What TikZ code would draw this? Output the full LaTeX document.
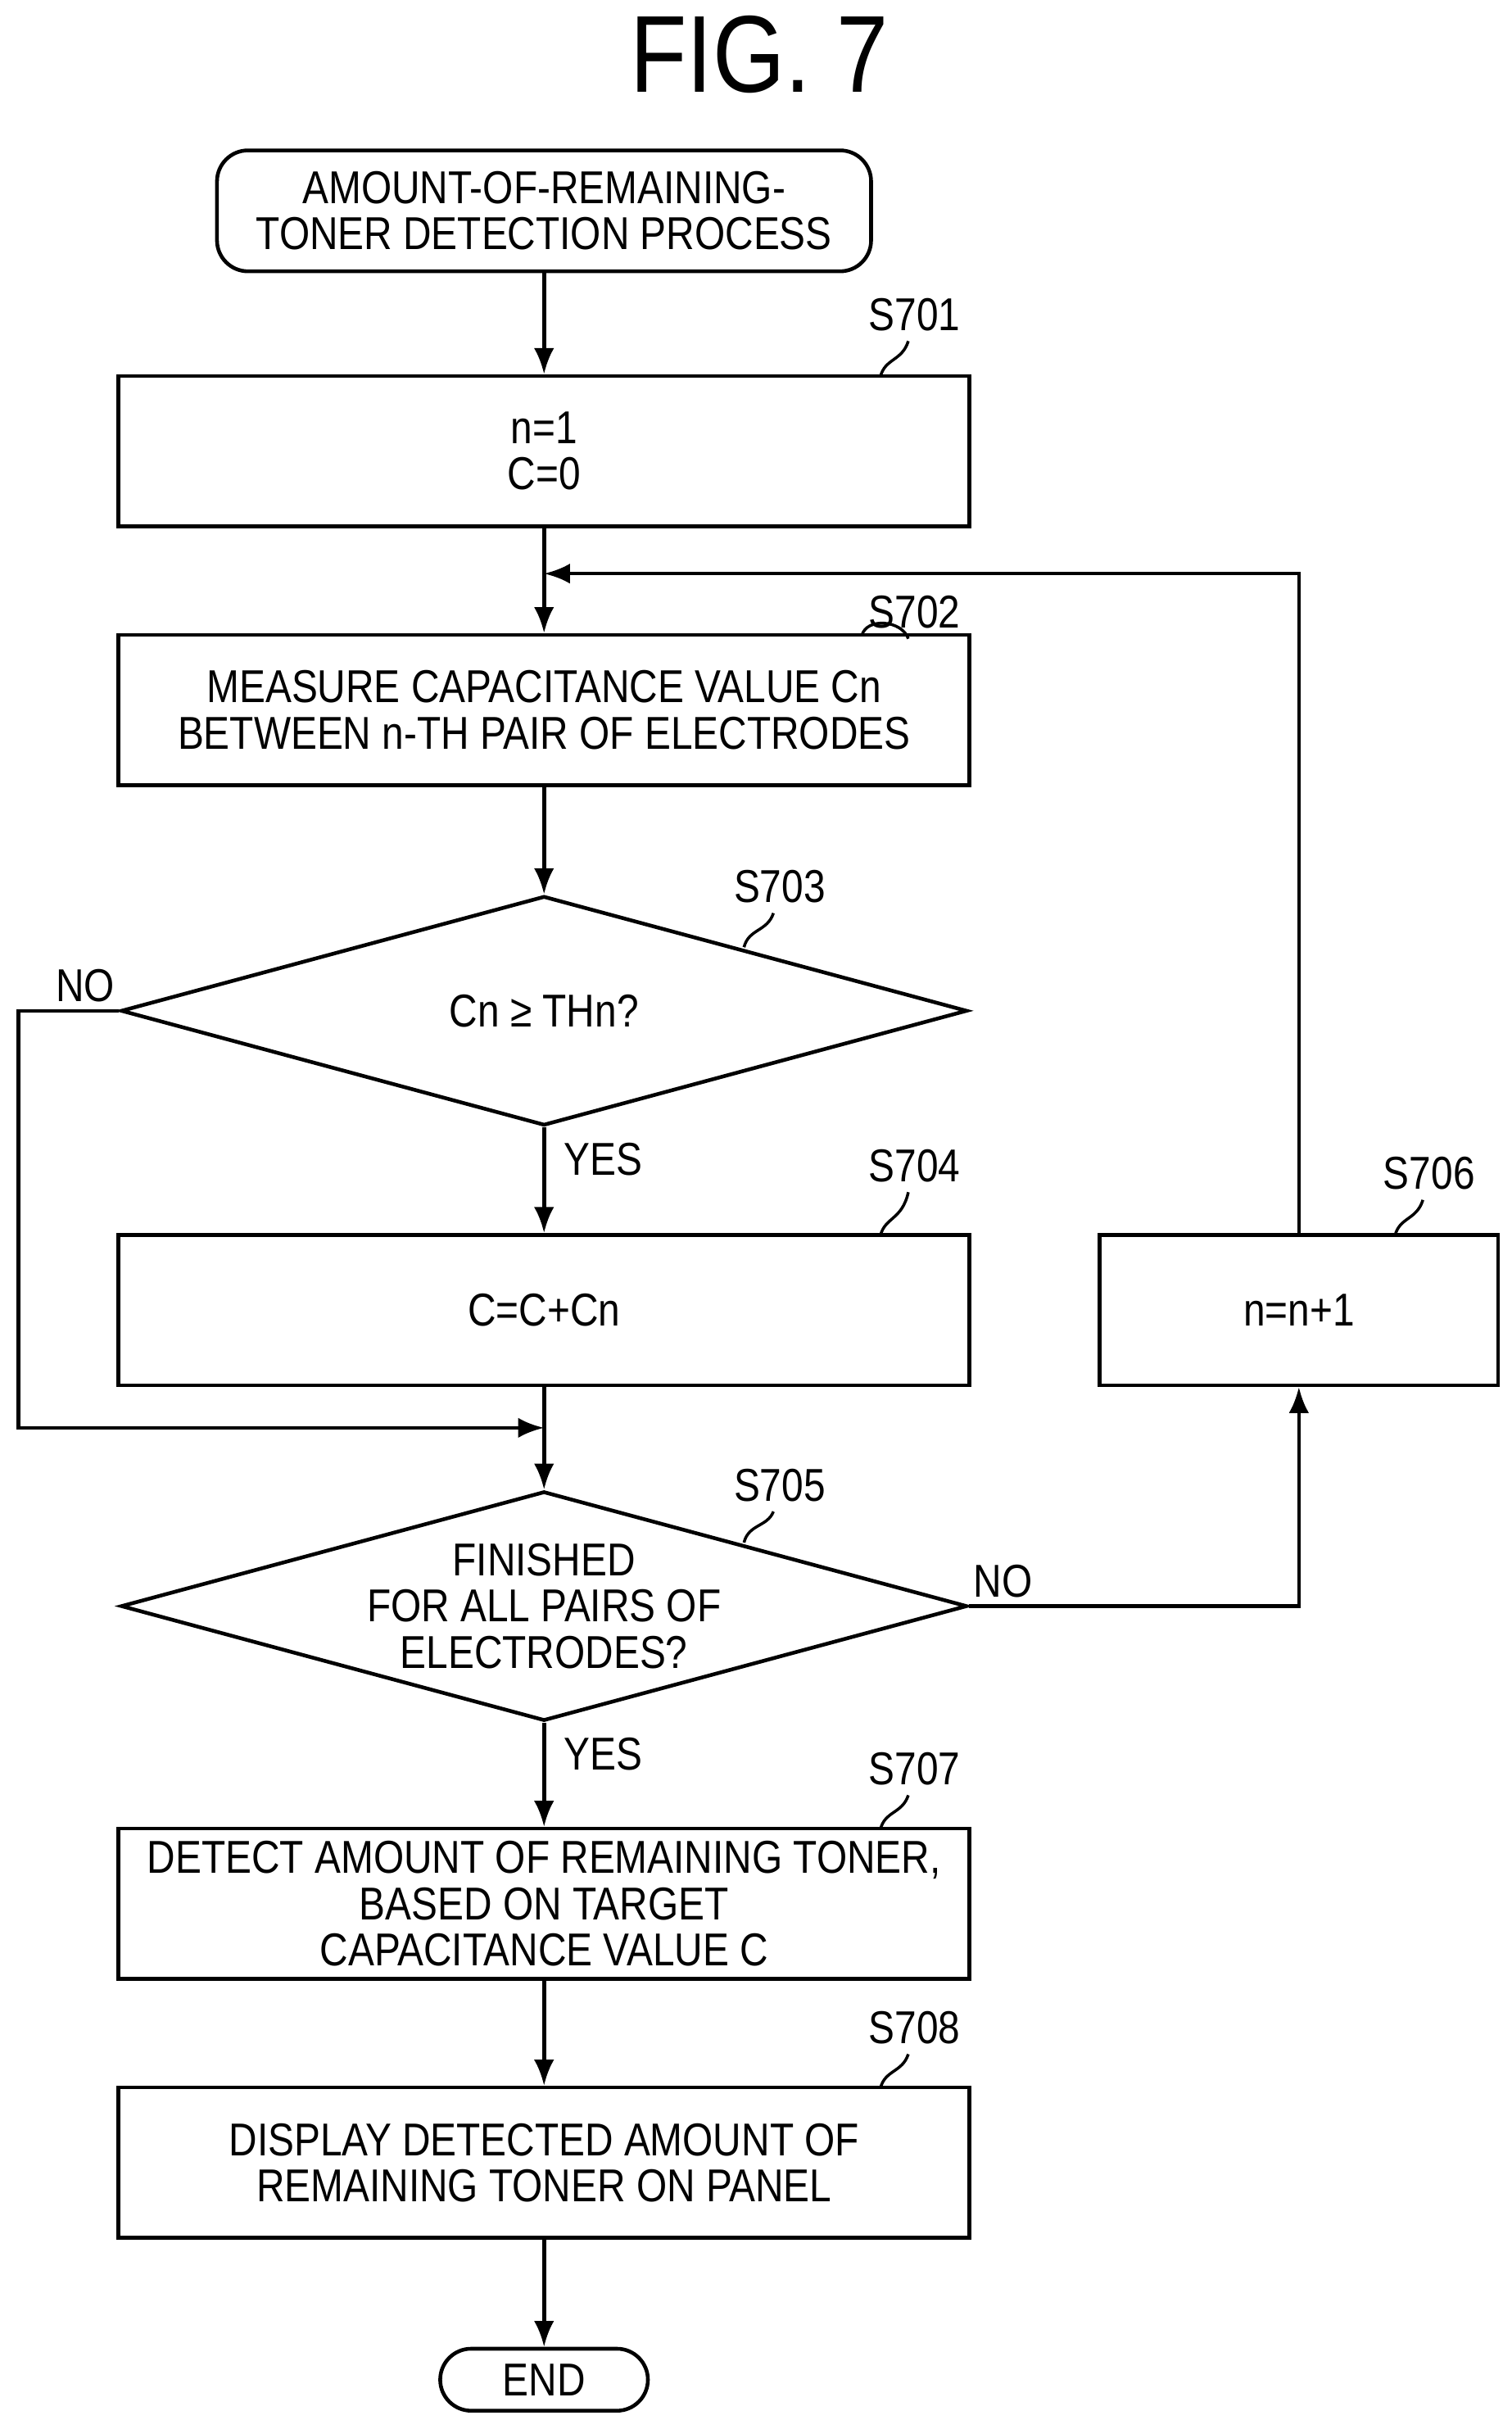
\documentclass[tikz,border=0pt]{standalone}
\usepackage{fontspec}
\setmainfont[FakeStretch=0.85]{Liberation Sans}
\usetikzlibrary{arrows.meta, positioning, shapes.geometric}
\tikzset{
  box/.style={draw, line width=1.3pt, minimum width=549*0.018923cm, minimum height=97*0.018923cm, align=center, inner sep=0pt},
  term/.style={draw, line width=1.3pt, rounded corners=20*0.018923cm, align=center, inner sep=0pt},
  dec/.style={draw, line width=1.3pt, diamond, aspect=3.69, minimum width=546*0.018923cm, minimum height=148*0.018923cm, align=center, inner sep=0pt},
  flow/.style={line width=1.3pt, -{Latex[length=9pt,width=7pt]}},
  steplabel/.style={inner sep=0pt},
  txt/.style={font=\fontsize{16}{16}\selectfont}
}
\begin{document}
\begin{tikzpicture}[x=0.018923cm, y=-0.018923cm, every node/.style={txt}]
  \useasboundingbox (0,0) rectangle (975,1561);
  \def \cx{351}

  \node[font=\fontsize{38}{38}\selectfont] (title) at (490,35) {FIG. 7};

  \node[term, minimum width=422*0.018923cm, minimum height=78*0.018923cm] (start) at (\cx,136) {AMOUNT-OF-REMAINING-\\TONER DETECTION PROCESS};
  \node[box] (s701) at (\cx,291) {n=1\\C=0};
  \node[box] (s702) at (\cx,458) {MEASURE CAPACITANCE VALUE Cn\\BETWEEN n-TH PAIR OF ELECTRODES};
  \node[dec] (s703) at (\cx,652) {Cn ≥ THn?};
  \node[box] (s704) at (\cx,845) {C=C+Cn};
  \node[box, minimum width=257*0.018923cm] (s706) at (838,845) {n=n+1};
  \node[dec] (s705) at (\cx,1036) {FINISHED\\FOR ALL PAIRS OF\\ELECTRODES?};
  \node[box] (s707) at (\cx,1228) {DETECT AMOUNT OF REMAINING TONER,\\BASED ON TARGET\\CAPACITANCE VALUE C};
  \node[box] (s708) at (\cx,1395) {DISPLAY DETECTED AMOUNT OF\\REMAINING TONER ON PANEL};
  \node[term, minimum width=134*0.018923cm, minimum height=40*0.018923cm] (end) at (\cx,1535) {END};

  % step labels with ticks
  \foreach \n/\lx/\ly/\bx/\by in {701/590/203/568/243, 702/590/395/556/410, 704/590/752/568/797, 707/590/1141/568/1180, 708/590/1308/568/1347, 706/922/757/900/797, 703/503/572/480/611, 705/503/958/480/995} {
    \node[steplabel] (l\n) at (\lx,\ly) {S\n};
    \draw[line width=1pt] (\bx,\by) .. controls (\bx+3,\by-12) and (\lx-8,\by-10) .. (\lx-4,\ly+17);
  }

  \coordinate (join) at (\cx,921);
  \coordinate (loop) at (\cx,370);
  \coordinate (nol) at (12,652);

  \draw[flow] (start) -- (s701);
  \draw[flow] (s701) -- (s702);
  \draw[flow] (s702) -- (s703);
  \draw[flow] (s703) -- node[right, xshift=3pt, pos=0.3] {YES} (s704);
  \draw[flow] (s704) -- (s705);
  \draw[flow] (s703.west) -- (nol) |- (join);
  \node (no1) at (55,636) {NO};
  \draw[flow] (s705.east) -| (s706);
  \node (no2) at (647,1020) {NO};
  \draw[flow] (s706) |- (loop);
  \draw[flow] (s705) -- node[right, xshift=3pt, pos=0.3] {YES} (s707);
  \draw[flow] (s707) -- (s708);
  \draw[flow] (s708) -- (end);
\end{tikzpicture}
\end{document}
